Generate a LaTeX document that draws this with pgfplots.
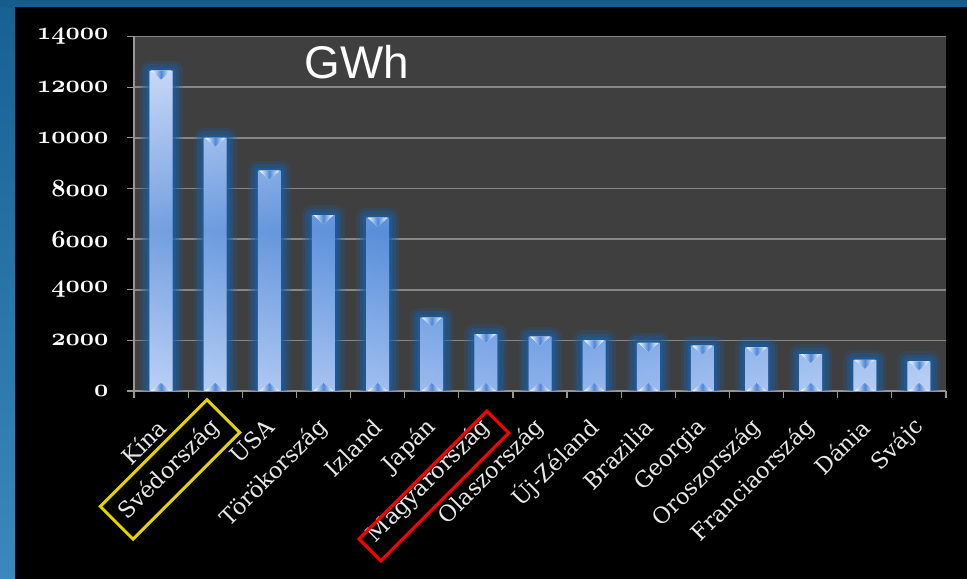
\documentclass[border=0pt]{standalone}
\usepackage{pgfplots}
\usepackage{pgfplotstable}
\pgfplotsset{compat=1.18}
\usepackage{fontspec}
\newfontfamily\labfont{DejaVu Serif}
\newfontfamily\gwhfont{Liberation Sans}
\newcommand\ynum{\usefont{OML}{cmm}{b}{it}\fontsize{23}{23}\selectfont}
\newcommand\yl[1]{\mbox{\ynum #1}}
\definecolor{frameA}{RGB}{24,96,146}
\definecolor{frameB}{RGB}{58,136,189}
\definecolor{frameT}{RGB}{22,92,140}
\definecolor{plotbg}{RGB}{63,63,63}
\definecolor{gridcol}{RGB}{135,135,135}
\definecolor{axiscol}{RGB}{150,150,150}
\definecolor{glow}{RGB}{25,95,170}
\definecolor{barlight}{RGB}{182,203,244}
\definecolor{barmid}{RGB}{70,130,214}
\definecolor{barlow}{RGB}{165,194,243}
\definecolor{labcol}{RGB}{232,232,232}
\definecolor{boxyellow}{RGB}{230,212,0}
\definecolor{boxred}{RGB}{255,0,0}

\pgfplotstableread{
x y
0 12650
1 10000
2 8700
3 6950
4 6850
5 2900
6 2250
7 2150
8 2000
9 1900
10 1790
11 1720
12 1460
13 1230
14 1170
}\data

\begin{document}
\begin{tikzpicture}[x=1bp,y=1bp]
\path[use as bounding box] (0,0) rectangle (967,579);
\fill[black] (0,0) rectangle (967,579);
\shade[top color=frameA, bottom color=frameB] (0,0) rectangle (15,579);
\fill[frameT] (0,572) rectangle (967,579);
\begin{axis}[
  at={(134bp,188bp)}, anchor=south west,
  scale only axis, width=812bp, height=354.5bp,
  xmin=-0.5, xmax=14.5, ymin=0, ymax=14000,
  scaled y ticks=false,
  axis background/.style={fill=plotbg},
  axis x line*=bottom, axis y line*=left,
  axis line style={axiscol, line width=1.2bp},
  ymajorgrids, major grid style={gridcol, line width=1.6bp},
  ytick={0,2000,4000,6000,8000,10000,12000,14000},
  yticklabels={\yl{0},\yl{2000},\yl{4000},\yl{6000},\yl{8000},\yl{10000},\yl{12000},\yl{14000}},
  yticklabel style={text=white, anchor=east, xshift=-15bp},
  xtick={0,...,14},
  xticklabels={Kína,Svédország,USA,Törökország,Izland,Japán,Magyarország,Olaszország,Új-Zéland,Brazilia,Georgia,Oroszország,Franciaország,Dánia,Svájc},
  minor xtick={-0.5,0.5,...,14.5},
  major x tick style={draw=none},
  tick align=outside,
  major tick length=7bp, minor tick length=7bp,
  tick style={axiscol, line width=1.2bp},
  xticklabel style={xshift=3bp, yshift=-23bp, rotate=45, anchor=east, font=\labfont\fontsize{22.5}{22.5}\selectfont, text=labcol},
  ybar, bar width=23bp,
]
\addplot[bar shift=0pt, draw=glow, line width=20bp, opacity=0.22, line join=round, fill=none] table[x=x,y=y]{\data};
\addplot[bar shift=0pt, draw=glow, line width=13bp, opacity=0.35, line join=round, fill=none] table[x=x,y=y]{\data};
\addplot[bar shift=0pt, draw=glow, line width=6bp, opacity=0.55, line join=round, fill=none] table[x=x,y=y]{\data};
\addplot[bar shift=0pt, draw=none, top color=barlight, bottom color=barlow, middle color=barmid] table[x=x,y=y]{\data};
\addplot[bar shift=0pt, draw=none, left color=white, right color=white, middle color=barmid, opacity=0.25,
  visualization depends on=rawy \as \rawy,
  nodes near coords={\tikz[x=1bp,y=1bp]{\pgfkeys{/pgf/fpu=false}\pgfmathsetmacro\h{\rawy*0.0253214}%
     \fill[white, opacity=0.95] (-10,0) -- (10,0) -- (0,-9) -- cycle;
     \fill[white, opacity=0.95] (-10,-\h) -- (10,-\h) -- (0,-\h+8) -- cycle;}},
  every node near coord/.style={anchor=north, inner sep=0pt, outer sep=0pt, opacity=1}
] table[x=x,y=y]{\data};
\end{axis}
\node[anchor=base west, inner sep=0pt, text=white, font=\gwhfont\fontsize{46}{46}\selectfont] at (304.5,500.7) {GWh};
\node[draw=boxyellow, line width=3bp, rotate=45, minimum width=150.8bp, minimum height=46.4bp, inner sep=0pt] at (170,109.5) {};
\node[draw=boxred, line width=3bp, rotate=45, minimum width=180.8bp, minimum height=31bp, inner sep=0pt] at (433.8,93) {};
\end{tikzpicture}
\end{document}
